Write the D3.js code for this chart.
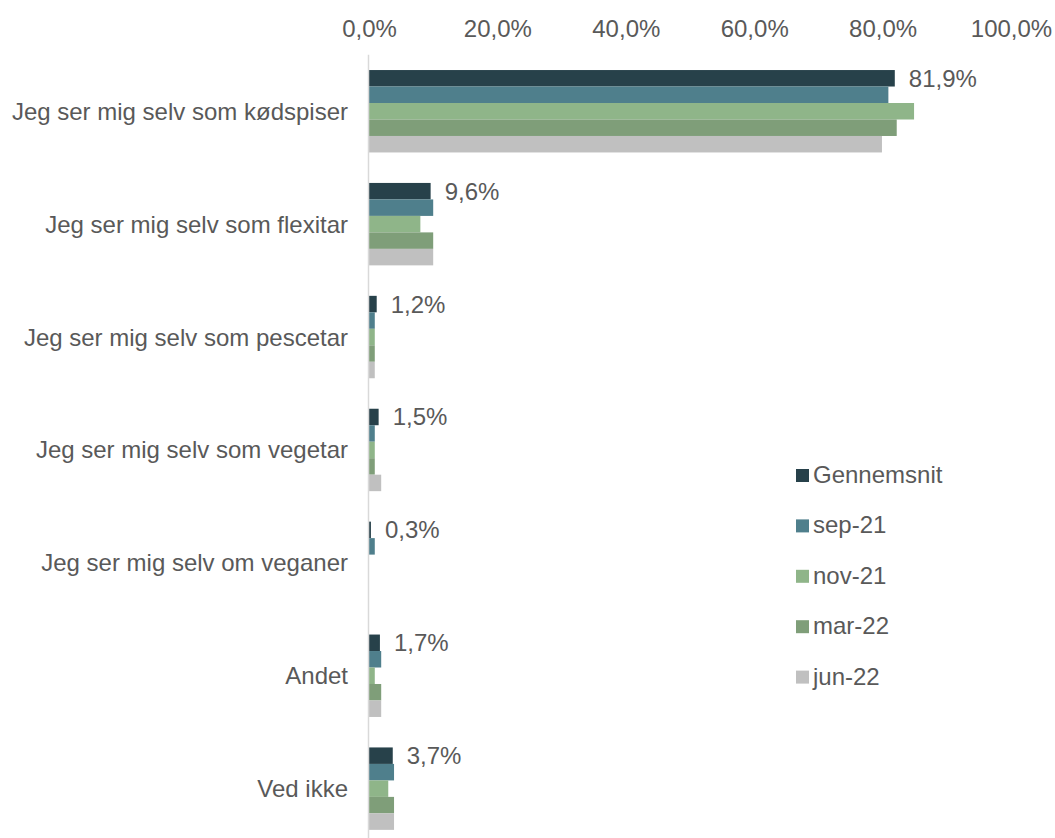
<!DOCTYPE html>
<html>
	<head>
		<meta charset="utf-8">
		<style type="text/css">
			body { margin: 0; background: #fff; }
			text { font-family: "Liberation Sans", Arial, sans-serif; fill: #595959; }
		</style>
		<title>Kostvaner</title>
	</head>
	<body>
		<script src="https://cdn.jsdelivr.net/npm/d3@7"></script>
		<script>

var categories = [
	"Jeg ser mig selv som kødspiser",
	"Jeg ser mig selv som flexitar",
	"Jeg ser mig selv som pescetar",
	"Jeg ser mig selv som vegetar",
	"Jeg ser mig selv om veganer",
	"Andet",
	"Ved ikke"
];
var seriesNames = ["Gennemsnit", "sep-21", "nov-21", "mar-22", "jun-22"];
var gennemsnit = [0.819, 0.096, 0.012, 0.015, 0.003, 0.017, 0.037];
var sep21      = [0.809, 0.100, 0.009, 0.009, 0.009, 0.019, 0.039];
var nov21      = [0.849, 0.080, 0.009, 0.009, 0.000, 0.009, 0.030];
var mar22      = [0.822, 0.100, 0.009, 0.009, 0.000, 0.019, 0.039];
var jun22      = [0.799, 0.100, 0.009, 0.019, 0.000, 0.019, 0.039];
var tickValues = [0, 0.2, 0.4, 0.6, 0.8, 1.0];

var colors = ["#27414a", "#4f7f8c", "#8fb589", "#7f9e79", "#c0c0c0"];
var seriesValues = [gennemsnit, sep21, nov21, mar22, jun22];

var width = 1055,
	height = 838;

var da = d3.formatLocale({decimal: ",", thousands: ".", grouping: [3], currency: ["", " kr."]});
var pct = da.format(".1%");

var svg = d3.select("body").append("svg")
	.attr("width", width)
	.attr("height", height);

var x = d3.scaleLinear()
	.domain([0, 1])
	.range([369, 1011]);

var y = d3.scaleBand()
	.domain(categories)
	.range([54.8, 845.1])
	.paddingInner(0.27)
	.paddingOuter(0.135);

var ySub = d3.scaleBand()
	.domain(seriesNames)
	.range([0, y.bandwidth()]);

// rows: one object per category
var rows = categories.map(function(c, i) {
	return {
		cat: c,
		vals: seriesNames.map(function(s, j) { return {series: s, value: seriesValues[j][i]}; })
	};
});

// top axis, labels only
var axis = svg.append("g")
	.attr("transform", "translate(0,30)")
	.call(d3.axisTop(x)
		.tickValues(tickValues)
		.tickFormat(pct)
		.tickSize(0)
		.tickPadding(0));
axis.select(".domain").remove();
axis.selectAll(".tick text")
	.attr("font-size", 24)
	.attr("dy", 7)
	.style("font-family", '"Liberation Sans", Arial, sans-serif')
	.attr("fill", "#595959");

// bars
var groups = svg.selectAll("g.cat")
	.data(rows)
	.enter().append("g")
	.attr("class", "cat")
	.attr("transform", function(d) { return "translate(0," + y(d.cat) + ")"; });

groups.selectAll("rect")
	.data(function(d) { return d.vals; })
	.enter().append("rect")
	.attr("x", x(0))
	.attr("y", function(d) { return ySub(d.series); })
	.attr("height", ySub.bandwidth())
	.attr("width", function(d) { return x(d.value) - x(0); })
	.attr("fill", function(d, j) { return colors[j]; });

// data labels for the average
groups.append("text")
	.attr("x", function(d) { return x(d.vals[0].value) + 14; })
	.attr("y", ySub(seriesNames[0]) + ySub.bandwidth() / 2 + 8.5)
	.attr("font-size", 24)
	.text(function(d) { return pct(d.vals[0].value); });

// category labels
svg.append("g").selectAll("text")
	.data(categories)
	.enter().append("text")
	.attr("x", 348)
	.attr("y", function(d) { return y(d) + y.bandwidth() / 2 + 8.5; })
	.attr("text-anchor", "end")
	.attr("font-size", 24)
	.text(function(d) { return d; });

// vertical axis line
svg.append("line")
	.attr("x1", x(0) - 0.5).attr("x2", x(0) - 0.5)
	.attr("y1", y.range()[0]).attr("y2", y.range()[1])
	.attr("stroke", "#d9d9d9")
	.attr("stroke-width", 1.5);

// legend
var legend = svg.append("g")
	.attr("transform", "translate(796,469)");

var item = legend.selectAll("g")
	.data(seriesNames)
	.enter().append("g")
	.attr("transform", function(d, i) { return "translate(0," + (i * 50.4) + ")"; });

item.append("rect")
	.attr("width", 13)
	.attr("height", 13)
	.attr("fill", function(d, i) { return colors[i]; });

item.append("text")
	.attr("x", 17)
	.attr("y", 14)
	.attr("font-size", 24)
	.text(function(d) { return d; });

		</script>
	</body>
</html>
